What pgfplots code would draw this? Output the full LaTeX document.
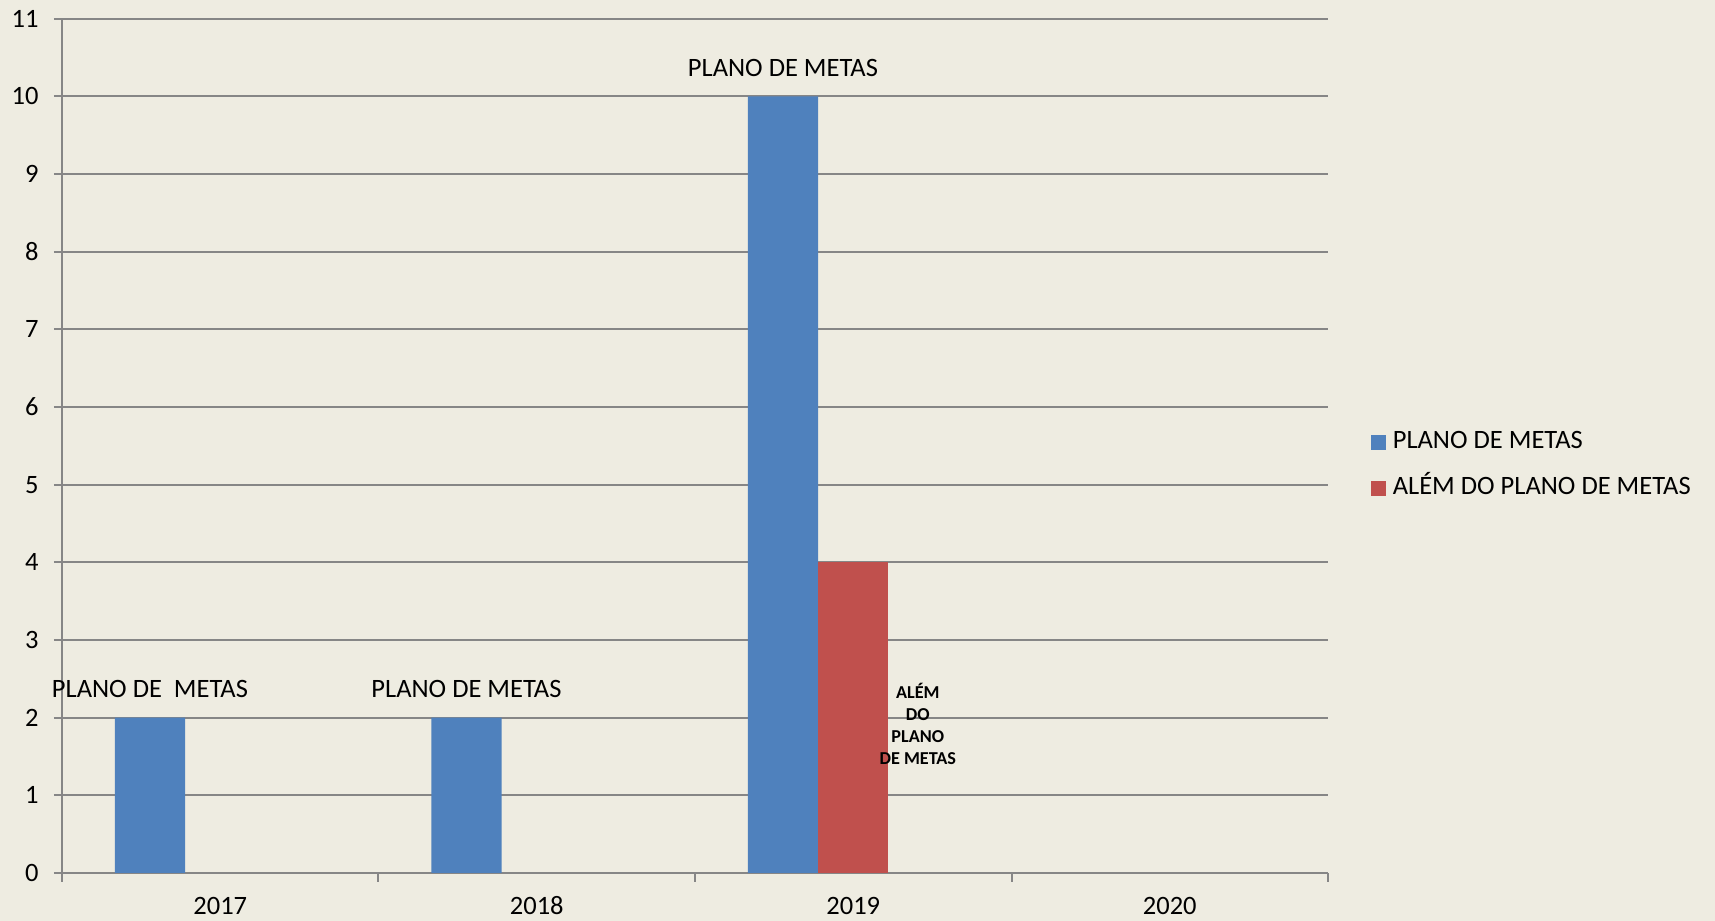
\documentclass[border=0pt]{standalone}
\usepackage{pgfplots}
\pgfplotsset{compat=1.18}
\usepackage{fontspec}
\setmainfont{Carlito}
\definecolor{bgc}{RGB}{238,236,225}
\definecolor{blueb}{RGB}{79,129,189}
\definecolor{redb}{RGB}{192,80,77}
\definecolor{gridc}{RGB}{134,134,134}
\begin{document}
\begin{tikzpicture}
\fill[bgc] (0,0) rectangle (857.5pt,460.5pt);
\begin{axis}[
  at={(31pt,24pt)}, anchor=south west,
  scale only axis, width=633pt, height=427.2pt,
  xmin=-0.5, xmax=3.5, ymin=0, ymax=11,
  axis x line*=bottom, axis y line*=left,
  axis line style={gridc, line width=1pt, -},
  ytick={0,1,...,11},
  ymajorgrids, major grid style={gridc, line width=1pt},
  xtick={0,1,2,3}, xticklabels={2017,2018,2019,2020},
  major x tick style={draw=none},
  minor xtick={-0.5,0.5,1.5,2.5,3.5},
  minor x tick style={gridc, line width=1pt},
  minor tick length=4.5pt,
  major tick length=4pt,
  tick align=outside,
  major y tick style={gridc, line width=1pt},
  /pgf/number format/assume math mode=true,
  tick label style={font=\fontsize{13.25}{15}\selectfont, text=black},
  xticklabel style={anchor=base, inner sep=0pt, yshift=-17pt},
  yticklabel style={anchor=east, inner sep=0pt, xshift=-7.5pt},
  ybar, bar width=0.2222,
  legend style={draw=none, fill=none, at={(rel axis cs:1.0335,0.4774)}, anchor=west,
    font=\fontsize{13.25}{15}\selectfont, inner sep=0pt,
    nodes={inner sep=0pt, text height=9pt, text depth=3pt},
    row sep=11pt,
    /tikz/every odd column/.append style={column sep=3.5pt}},
  legend cell align=left,
  legend image code/.code={\fill[#1] (0pt,-3.75pt) rectangle (7.5pt,3.75pt);},
  clip=false,
]
\addplot[fill=blueb, draw=none, bar shift=-0.2222,
  point meta=explicit symbolic, nodes near coords,
  every node near coord/.append style={anchor=base, inner sep=0pt, yshift=10pt, font=\fontsize{13.25}{15}\selectfont, text=black}]
  coordinates {(0,2) [PLANO DE\ \ METAS] (1,2) [PLANO DE METAS] (2,10) [PLANO DE METAS]};
\addlegendentry{PLANO DE METAS}
\addplot[fill=redb, draw=none, bar shift=0]
  coordinates {(2,4)};
\addlegendentry{ALÉM DO PLANO DE METAS}
\node[align=center, font=\fontsize{9.1}{11}\selectfont\bfseries, text=black] at (axis cs:2.204,1.92) {ALÉM\\DO\\PLANO\\DE METAS};
\end{axis}
\pgfresetboundingbox
\path (0,0) rectangle (857.5pt,460.5pt);
\end{tikzpicture}
\end{document}
